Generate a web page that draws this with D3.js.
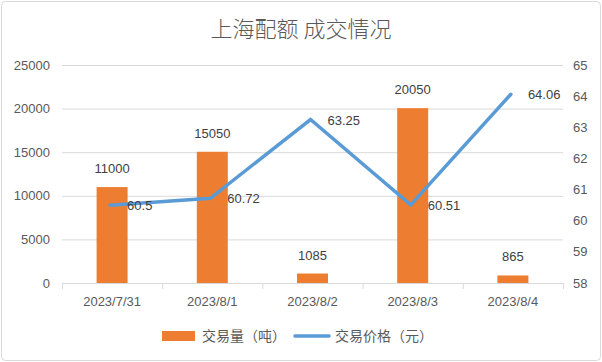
<!DOCTYPE html>
<html>
<head>
<meta charset="utf-8">
<script src="https://cdn.jsdelivr.net/npm/d3@7"></script>
<style>
  body { margin: 0; background: #fff; }
  svg text { font-family: "Liberation Sans", "Noto Sans CJK SC", sans-serif; }
</style>
</head>
<body>
<svg id="chart" width="602" height="362"></svg>
<script>
// data
var categories = ['2023/7/31', '2023/8/1', '2023/8/2', '2023/8/3', '2023/8/4'];
var volume = [11000, 15050, 1085, 20050, 865];     // 交易量（吨）
var price = [60.5, 60.72, 63.25, 60.51, 64.06];    // 交易价格（元）
var leftTicks = [0, 5000, 10000, 15000, 20000, 25000];
var rightTicks = [58, 59, 60, 61, 62, 63, 64, 65];

var barColor = '#ED7D31',
    lineColor = '#5B9BD5',
    gridColor = '#D9D9D9',
    textColor = '#595959';

var svg = d3.select('#chart');

// outer border
svg.append('rect')
    .attr('x', 1.5).attr('y', 1.5)
    .attr('width', 599).attr('height', 359)
    .attr('rx', 4)
    .attr('fill', '#fff')
    .attr('stroke', gridColor);

// title
svg.append('text')
    .attr('x', 301).attr('y', 37)
    .attr('text-anchor', 'middle')
    .attr('font-size', 22)
    .style('font-family', '"Noto Sans CJK SC", sans-serif')
    .style('font-weight', 300)
    .attr('fill', textColor)
    .text('上海配额 成交情况');

// scales
var x = d3.scaleBand().domain(categories).range([62, 563]).paddingInner(0).paddingOuter(0);
var yL = d3.scaleLinear().domain([0, 25000]).range([283, 65]);
var yR = d3.scaleLinear().domain([58, 65]).range([283, 65]);

// gridlines
svg.append('g').selectAll('line')
    .data(leftTicks.slice(1))
    .enter().append('line')
    .attr('x1', 62).attr('x2', 563)
    .attr('y1', d => yL(d) + 0.5).attr('y2', d => yL(d) + 0.5)
    .attr('stroke', gridColor);

// left axis labels
svg.append('g').selectAll('text')
    .data(leftTicks)
    .enter().append('text')
    .attr('x', 50).attr('y', d => yL(d) + 4.5)
    .attr('text-anchor', 'end')
    .attr('font-size', 13)
    .attr('fill', textColor)
    .text(d => d);

// right axis labels
svg.append('g').selectAll('text')
    .data(rightTicks)
    .enter().append('text')
    .attr('x', 573).attr('y', d => yR(d) + 4.5)
    .attr('font-size', 13)
    .attr('fill', textColor)
    .text(d => d);

// x axis line + ticks
var xa = svg.append('g');
xa.append('line')
    .attr('x1', 62).attr('x2', 563)
    .attr('y1', 283.5).attr('y2', 283.5)
    .attr('stroke', gridColor);
xa.selectAll('line.tick')
    .data(categories.concat(['end']))
    .enter().append('line')
    .attr('class', 'tick')
    .attr('x1', (d, i) => (i < categories.length ? x(d) : 563) + 0.5)
    .attr('x2', (d, i) => (i < categories.length ? x(d) : 563) + 0.5)
    .attr('y1', 283).attr('y2', 289)
    .attr('stroke', gridColor);
xa.selectAll('text')
    .data(categories)
    .enter().append('text')
    .attr('x', d => x(d) + x.bandwidth() / 2)
    .attr('y', 306)
    .attr('text-anchor', 'middle')
    .attr('font-size', 13)
    .attr('fill', textColor)
    .text(d => d);

// bars
var barW = 31;
svg.append('g').selectAll('rect')
    .data(volume)
    .enter().append('rect')
    .attr('x', (d, i) => x(categories[i]) + x.bandwidth() / 2 - barW / 2)
    .attr('y', d => yL(d))
    .attr('width', barW)
    .attr('height', d => yL(0) - yL(d))
    .attr('fill', barColor);

// bar labels
svg.append('g').selectAll('text')
    .data(volume)
    .enter().append('text')
    .attr('x', (d, i) => x(categories[i]) + x.bandwidth() / 2)
    .attr('y', d => yL(d) - 14)
    .attr('text-anchor', 'middle')
    .attr('font-size', 13)
    .attr('fill', '#404040')
    .text(d => d);

// price line
var line = d3.line()
    .x((d, i) => x(categories[i]) + x.bandwidth() / 2 - 2)
    .y(d => yR(d));

svg.append('path')
    .datum(price)
    .attr('d', line)
    .attr('fill', 'none')
    .attr('stroke', lineColor)
    .attr('stroke-width', 3.5)
    .attr('stroke-linecap', 'round')
    .attr('stroke-linejoin', 'miter');

// price labels
svg.append('g').selectAll('text')
    .data(price)
    .enter().append('text')
    .attr('x', (d, i) => x(categories[i]) + x.bandwidth() / 2 + 15)
    .attr('y', d => yR(d) + 5)
    .attr('font-size', 13)
    .attr('fill', '#404040')
    .text(d => d);

// legend
var lg = svg.append('g');
lg.append('rect')
    .attr('x', 162).attr('y', 331)
    .attr('width', 33).attr('height', 10)
    .attr('fill', barColor);
lg.append('text')
    .attr('x', 202).attr('y', 341)
    .attr('font-size', 14)
    .style('font-family', '"Noto Sans CJK SC", sans-serif')
    .attr('fill', textColor)
    .text('交易量（吨）');
lg.append('line')
    .attr('x1', 295).attr('x2', 329)
    .attr('y1', 336).attr('y2', 336)
    .attr('stroke', lineColor)
    .attr('stroke-width', 3.5)
    .attr('stroke-linecap', 'round');
lg.append('text')
    .attr('x', 335).attr('y', 341)
    .attr('font-size', 14)
    .style('font-family', '"Noto Sans CJK SC", sans-serif')
    .attr('fill', textColor)
    .text('交易价格（元）');
</script>
</body>
</html>
